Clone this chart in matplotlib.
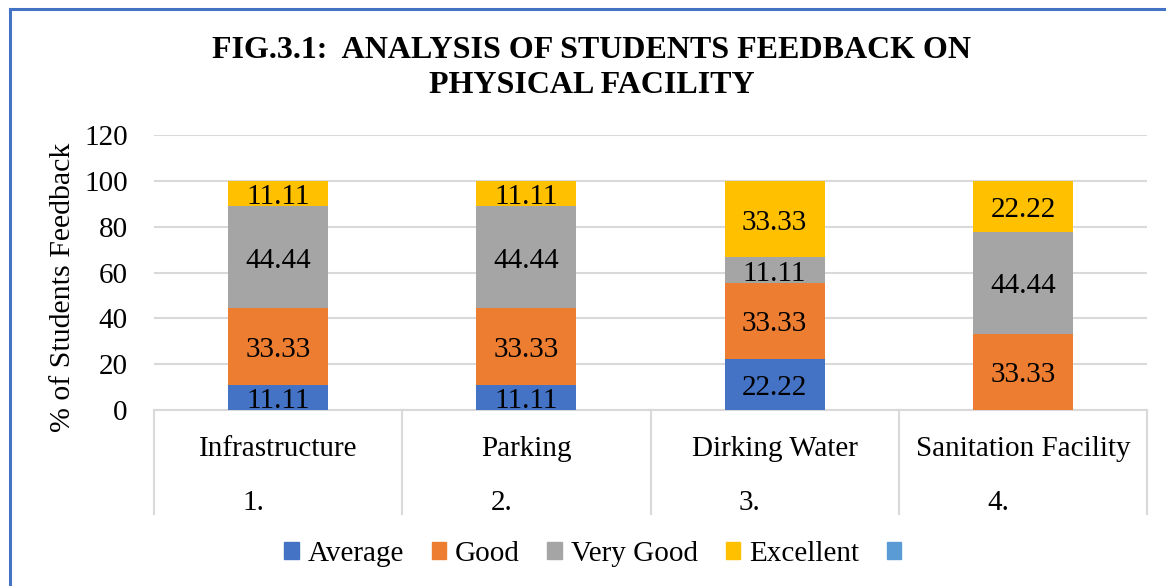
import matplotlib
matplotlib.use("Agg")
import matplotlib.pyplot as plt
from matplotlib.patches import Patch
from matplotlib.lines import Line2D
import numpy as np

categories = ["Infrastructure", "Parking", "Dirking Water", "Sanitation Facility"]
numbers = ["1.", "2.", "3.", "4."]
series_names = ["Average", "Good", "Very Good", "Excellent"]
average = [11.11, 11.11, 22.22, 0]
good = [33.33, 33.33, 33.33, 33.33]
very_good = [44.44, 44.44, 11.11, 44.44]
excellent = [11.11, 11.11, 33.33, 22.22]
yticks = [0, 20, 40, 60, 80, 100, 120]
colors = ["#4472C4", "#ED7D31", "#A5A5A5", "#FFC000"]
extra_color = "#5B9BD5"

plt.rcParams['font.family'] = ['Liberation Serif', 'DejaVu Serif']
FS = 21

W, H = 1166, 586
fig = plt.figure(figsize=(W / 100, H / 100), dpi=100)

# outer border (top and left visible)
fig.add_artist(Line2D([9.5 / W, 1], [1 - 8.5 / H, 1 - 8.5 / H], color="#4472C4", lw=2.2, transform=fig.transFigure))
fig.add_artist(Line2D([9.5 / W, 9.5 / W], [0, 1 - 8.5 / H], color="#4472C4", lw=2.2, transform=fig.transFigure))

left, right, top, bottom = 154, 1147, 135.2, 410
ax = fig.add_axes([left / W, 1 - bottom / H, (right - left) / W, (bottom - top) / H])

x = np.arange(len(categories))
values = [average, good, very_good, excellent]
base = np.zeros(len(categories))
for vals, col in zip(values, colors):
    vals = np.array(vals, dtype=float)
    ax.bar(x, vals, bottom=base, width=0.403, color=col, zorder=3)
    for xi, b, v in zip(x, base, vals):
        if v > 0:
            ax.annotate(f"{v:.2f}", (xi, b + v / 2), xytext=(0, -2.5), textcoords="offset points",
                        ha="center", va="center", fontsize=FS, color="black", zorder=4)
    base = base + vals

ax.set_ylim(0, 120)
ax.set_xlim(-0.5, len(categories) - 0.5)
ax.set_yticks(yticks)
ax.set_yticklabels([str(t) for t in yticks], fontsize=FS)
ax.tick_params(axis="y", length=0, pad=19)
ax.set_xticks([])
for s in ["top", "right", "left"]:
    ax.spines[s].set_visible(False)
ax.spines["bottom"].set_color("#D9D9D9")
ax.spines["bottom"].set_linewidth(1.5)
ax.yaxis.grid(True, color="#D9D9D9", lw=1.5, zorder=0)
ax.set_axisbelow(True)
ax.set_ylabel("% of Students Feedback", fontsize=21.5)
ax.yaxis.set_label_coords(-(154 - 63) / (right - left), 1 - (287 - top) / (bottom - top))
ax.yaxis.label.set_va("center")

# multi-level category axis
ext = (514 - 410) / (bottom - top)
for i in range(len(categories) + 1):
    xv = i / len(categories)
    ax.add_artist(Line2D([xv, xv], [0, -ext], color="#D9D9D9", lw=1.5, transform=ax.transAxes, clip_on=False))
name_y = -(449 - 410) / (bottom - top)
num_y = -(503 - 410) / (bottom - top)
for i, (c, n) in enumerate(zip(categories, numbers)):
    xc = (i + 0.5) / len(categories)
    ax.text(xc, name_y, c, ha="center", va="center", fontsize=FS, transform=ax.transAxes)
    ax.text(xc - 25 / (right - left), num_y, n, ha="center", va="center", fontsize=FS, transform=ax.transAxes)

# title
fig.text(592 / W, 1 - 68 / H, "FIG.3.1:  ANALYSIS OF STUDENTS FEEDBACK ON\nPHYSICAL FACILITY",
         ha="center", va="center", fontsize=23, fontweight="bold", linespacing=1.3)

handles = [Patch(color=c) for c in colors] + [Patch(color=extra_color)]
labels = series_names + [""]
fig.legend(handles, labels, loc="center", bbox_to_anchor=(597 / W, 1 - 554 / H), ncol=5, frameon=False,
           fontsize=FS, handlelength=0.5, handleheight=0.5, handletextpad=0.3, columnspacing=0.95,
           borderpad=0, borderaxespad=0)

fig.savefig("out.png", dpi=100)
